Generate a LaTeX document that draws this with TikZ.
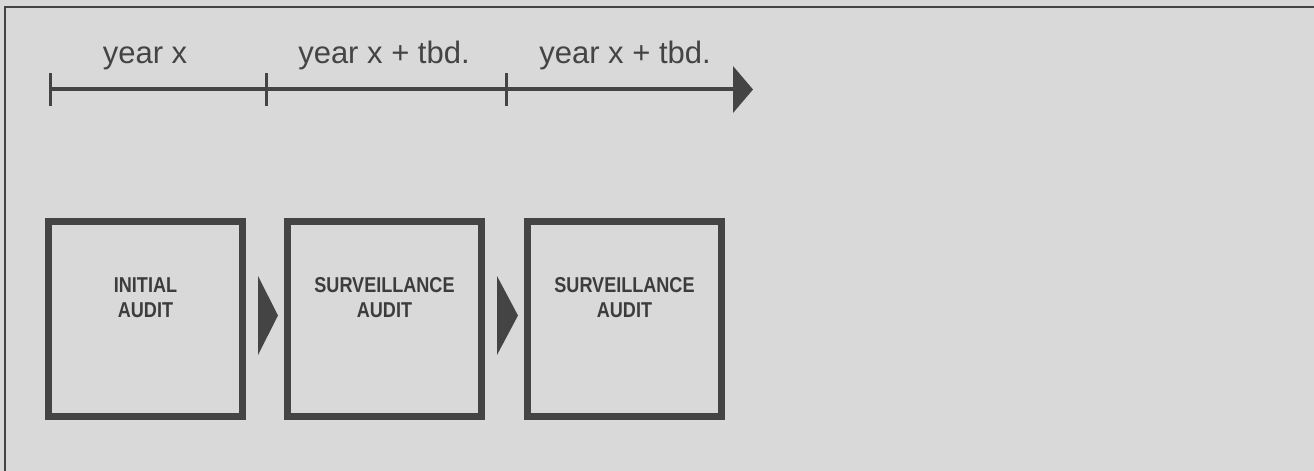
\documentclass[tikz,border=0pt]{standalone}
\usepackage{fontspec}
\setmainfont{Liberation Sans}
\newfontfamily\condfont[FakeStretch=0.84]{Liberation Sans}
\usetikzlibrary{arrows.meta}
\definecolor{bg}{RGB}{217,217,217}
\definecolor{ink}{RGB}{68,68,68}
\definecolor{txt}{RGB}{60,60,60}
\tikzset{
  x=1pt, y=-1pt,
  auditbox/.style={draw=ink, line width=7pt, minimum width=194pt, minimum height=195pt, inner sep=0pt, outer sep=0pt, anchor=north west},
  boxlabel/.style={font=\condfont\bfseries\fontsize{21.5}{25}\selectfont, text=txt, align=center, anchor=base},
  yearlabel/.style={font=\fontsize{31}{36}\selectfont, text=ink, anchor=base},
  tick/.style={draw=ink, line width=3pt},
  flowtri/.style={fill=ink, draw=none},
}
\begin{document}
\begin{tikzpicture}
\useasboundingbox (0,0) rectangle (1314,471);
\fill[bg] (0,0) rectangle (1314,471);
% frame (top and left only)
\draw[ink, line width=2pt] (5,471) -- (5,7) -- (1314,7);
% timeline
\coordinate (t0) at (50,89);
\coordinate (t1) at (266,89);
\coordinate (t2) at (506,89);
\coordinate (tend) at (734,89);
\draw[ink, line width=3.5pt] (t0) -- (tend);
\fill[ink] (733,66) -- (753,89.5) -- (733,113) -- cycle;
\draw[tick] (50,73) -- (50,106);
\draw[tick] (266,73) -- (266,106);
\draw[tick] (506,73) -- (506,106);
\node[yearlabel] (y1) at (145,63) {year x};
\node[yearlabel] (y2) at (384,63) {year x + tbd.};
\node[yearlabel] (y3) at (625,63) {year x + tbd.};
% boxes
\node[auditbox] (b1) at (48.5,221.5) {};
\node[auditbox] (b2) at (287.5,221.5) {};
\node[auditbox] (b3) at (527.5,221.5) {};
\node[boxlabel] (l1) at ([yshift=-95.5pt]b1.north) {INITIAL\\AUDIT};
\node[boxlabel] (l2) at ([yshift=-95.5pt]b2.north) {SURVEILLANCE\\AUDIT};
\node[boxlabel] (l3) at ([yshift=-95.5pt]b3.north) {SURVEILLANCE\\AUDIT};
% flow triangles
\fill[flowtri] (258,276) -- (278,315.5) -- (258,355) -- cycle;
\fill[flowtri] (497,276) -- (518,315.5) -- (497,355) -- cycle;
\end{tikzpicture}
\end{document}
